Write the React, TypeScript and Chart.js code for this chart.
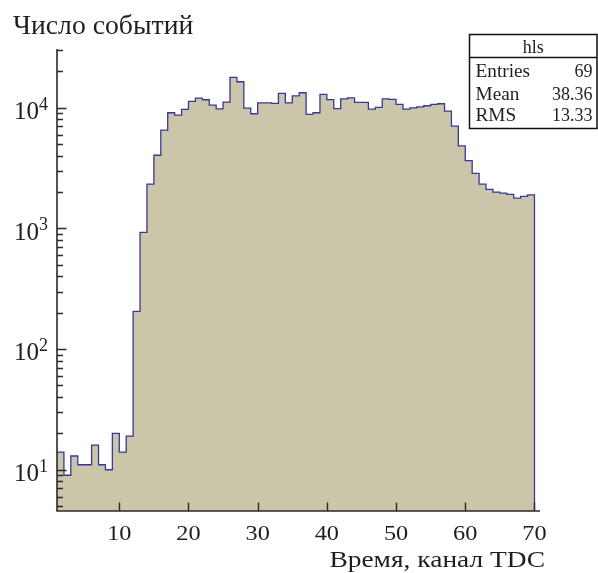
import React, { useEffect, useRef } from "react";
import { Chart, registerables } from "chart.js";

Chart.register(...registerables);

// Histogram "hls": 69 bins of width 1 starting at TDC channel 1
const binStart = 1;
const binWidth = 1;
const counts = [
  14, 9, 13, 11, 11, 16, 11, 10, 20, 14, 19, 205, 927, 2330, 4040, 6530, 9090,
  8700, 9700, 11300, 12040, 11650, 10530, 9810, 11150, 17870, 16430, 9940, 8920,
  11000, 11000, 10880, 13160, 11000, 12570, 13320, 8830, 9090, 12910, 11700,
  9850, 11870, 12080, 11100, 11100, 9760, 10080, 11870, 11740, 10670, 9760,
  10000, 10190, 10390, 10670, 10800, 9390, 7050, 4830, 3650, 2860, 2330, 2105,
  2000, 1962, 1913, 1783, 1842, 1900,
];

// Axis ranges and ticks
const xMin = 1;
const xMax = 70.8;
const yMin = 4.55;
const yMax = 30700;
const xTickValues = [10, 20, 30, 40, 50, 60, 70];
const yDecadeExponents = [1, 2, 3, 4];

// Texts
const yTitle = "Число событий";
const xTitle = "Время, канал TDC";
const statsName = "hls";
const statsLabels = ["Entries", "Mean", "RMS"];
const statsValues = ["69", "38.36", "13.33"];

const FONT = '"Liberation Serif", "Times New Roman", serif';
const FILL = "#cbc5aa";
const LINE = "#38389a";
const AXIS = "#2a2a2a";
const TEXT = "#1e1e1e";

// text drawn with an optional horizontal stretch (wide typeset look)
function drawText(
  ctx: CanvasRenderingContext2D,
  text: string,
  x: number,
  y: number,
  align: CanvasTextAlign,
  size: number,
  sx = 1
) {
  ctx.save();
  ctx.translate(x, y);
  ctx.scale(sx, 1);
  ctx.font = `${size}px ${FONT}`;
  ctx.textAlign = align;
  ctx.textBaseline = "alphabetic";
  ctx.fillText(text, 0, 0);
  ctx.restore();
}

const axesPlugin = {
  id: "rootAxes",
  afterDatasetsDraw(chart: any) {
    const { ctx, chartArea: a, scales } = chart;
    const xs = scales.x;
    const ys = scales.y;
    ctx.save();

    // axis lines
    ctx.strokeStyle = AXIS;
    ctx.lineWidth = 1.6;
    ctx.beginPath();
    ctx.moveTo(a.left, a.top);
    ctx.lineTo(a.left, a.bottom);
    ctx.lineTo(a.right, a.bottom);
    ctx.stroke();

    // x ticks (inside)
    ctx.lineWidth = 1.4;
    ctx.beginPath();
    for (const v of xTickValues) {
      const px = Math.round(xs.getPixelForValue(v)) + 0.5;
      ctx.moveTo(px, a.bottom);
      ctx.lineTo(px, a.bottom - 8.5);
    }
    // y ticks: decades long, 2..9 short
    for (let d = 0; d <= 5; d++) {
      for (let m = 1; m <= 9; m++) {
        const v = m * Math.pow(10, d);
        if (v < yMin || v > yMax) continue;
        const py = Math.round(ys.getPixelForValue(v)) + 0.5;
        ctx.moveTo(a.left, py);
        ctx.lineTo(a.left + (m === 1 ? 9.5 : 6), py);
      }
    }
    ctx.stroke();

    ctx.fillStyle = TEXT;
    // x tick labels
    for (const v of xTickValues) {
      drawText(ctx, String(v), xs.getPixelForValue(v), a.bottom + 29, "center", 21.5, 1.13);
    }

    // y tick labels 10^n
    for (const e of yDecadeExponents) {
      const py = ys.getPixelForValue(Math.pow(10, e));
      drawText(ctx, "10", a.left - 18, py + 11.3, "right", 25);
      drawText(ctx, String(e), a.left - 18, py + 1.8, "left", 18);
    }

    // axis titles
    drawText(ctx, yTitle, 13, 34, "left", 26.5, 1.045);
    drawText(ctx, xTitle, a.right + 5, a.bottom + 56, "right", 22.5, 1.22);

    // statistics box
    const bx = 469.5, by = 34.5, bw = 127.5, bh = 94;
    ctx.fillStyle = "#ffffff";
    ctx.fillRect(bx, by, bw, bh);
    ctx.strokeStyle = "#111";
    ctx.lineWidth = 1.5;
    ctx.strokeRect(bx, by, bw, bh);
    ctx.beginPath();
    ctx.moveTo(bx, by + 23);
    ctx.lineTo(bx + bw, by + 23);
    ctx.stroke();
    ctx.fillStyle = TEXT;
    drawText(ctx, statsName, bx + bw / 2, by + 18, "center", 18);
    const rowBase = [77.3, 100, 120.7];
    statsLabels.forEach((lab, i) => {
      drawText(ctx, lab, bx + 6, rowBase[i], "left", 18, 1.07);
      drawText(ctx, statsValues[i], bx + bw - 4.5, rowBase[i], "right", 18);
    });

    ctx.restore();
  },
};

export default function App() {
  const canvasRef = useRef<HTMLCanvasElement | null>(null);

  useEffect(() => {
    const canvas = canvasRef.current;
    if (!canvas) return;

    // step outline: each bin's value extends to the right of its low edge
    const nBins = counts.length;
    const points = counts.map((c, i) => ({ x: binStart + i * binWidth, y: c }));
    const upper = binStart + nBins * binWidth;
    points.push({ x: upper, y: counts[nBins - 1] });
    points.push({ x: upper, y: yMin });

    const chart = new Chart(canvas, {
      type: "line",
      data: {
        datasets: [
          {
            label: statsName,
            data: points,
            stepped: true,
            fill: "start",
            backgroundColor: FILL,
            borderColor: LINE,
            borderWidth: 1.3,
            pointRadius: 0,
            tension: 0,
          },
        ],
      },
      options: {
        responsive: false,
        animation: false,
        layout: { padding: { left: 57, top: 49, right: 58, bottom: 62 } },
        plugins: {
          legend: { display: false },
          tooltip: { enabled: false },
        },
        scales: {
          x: { type: "linear", min: xMin, max: xMax, display: false },
          y: { type: "logarithmic", min: yMin, max: yMax, display: false },
        },
      },
      plugins: [axesPlugin],
    });

    return () => chart.destroy();
  }, []);

  return (
    <div
      style={{
        position: "fixed",
        left: 0,
        top: 0,
        width: 598,
        height: 573,
        background: "#ffffff",
      }}
    >
      <canvas ref={canvasRef} width={598} height={573} style={{ width: 598, height: 573 }} />
    </div>
  );
}
